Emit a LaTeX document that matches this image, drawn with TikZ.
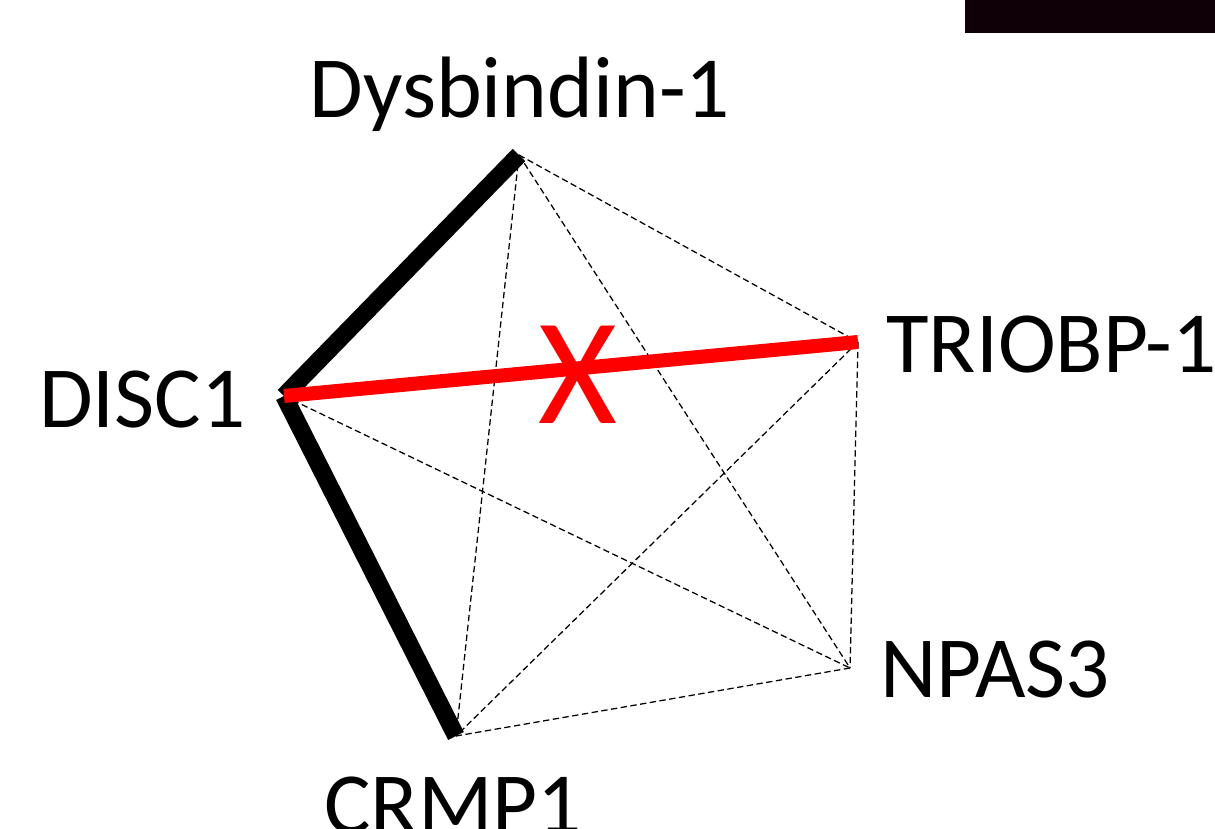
\documentclass[tikz,border=0pt]{standalone}
\usepackage{fontspec}
\setmainfont{Carlito}
\begin{document}
\begin{tikzpicture}[x=0.025cm,y=-0.025cm,
  lbl/.style={inner sep=0pt, font=\fontsize{62}{74}\selectfont},
  strong/.style={line width=12.5pt, line cap=butt, black},
  lost/.style={line width=10pt, line cap=butt, red},
  weak/.style={line width=0.9pt, dash pattern=on 4.5pt off 2.5pt, black}]
\useasboundingbox (0,0) rectangle (1215,828);

% dark bar at the top right
\fill[fill={rgb,255:red,14;green,0;blue,6}] (965,0) rectangle (1215,33);

% interaction partners
\coordinate (disc) at (284,396);
\coordinate (dys) at (519,155);
\coordinate (trio) at (858,342);
\coordinate (npas) at (850,668);
\coordinate (crmp) at (456,736);

% weak interactions
\draw[weak] (dys) -- (trio);
\draw[weak] (dys) -- (npas);
\draw[weak] (dys) -- (crmp);
\draw[weak] (trio) -- (npas);
\draw[weak] (trio) -- (crmp);
\draw[weak] (npas) -- (crmp);
\draw[weak] (disc) -- (npas);

% strong interactions
\draw[strong] (disc) -- (dys);
\draw[strong] (disc) -- (crmp);

% abolished interaction
\draw[lost] (disc) -- (trio);
\node[inner sep=0pt, red, font=\fontsize{108}{114}\selectfont] (cross) at (578,375) {X};

% labels
\node[lbl, anchor=base] (ldys) at (520,117) {Dysbindin-1};
\node[lbl, anchor=base west] (ltrio) at (886,372) {TRIOBP-1};
\node[lbl, anchor=base east] (ldisc) at (246,427) {DISC1};
\node[lbl, anchor=base west] (lnpas) at (880,697) {NPAS3};
\node[lbl, anchor=base] (lcrmp) at (453,833) {CRMP1};
\end{tikzpicture}
\end{document}
